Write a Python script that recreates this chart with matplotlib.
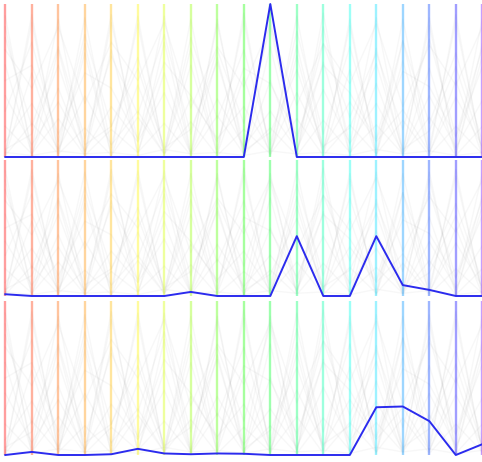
import colorsys

import matplotlib
matplotlib.use("Agg")
import matplotlib.pyplot as plt

# one column per axis, 19 axes (last one sits on the right edge)
axis_ids = list(range(19))
axis_hues_deg = [0, 12, 24, 34, 44, 58, 70, 85, 100, 115, 130, 145, 160, 175, 188, 205, 225, 242, 265]

# highlighted record, one per panel (fraction of panel height)
blue_top = [0, 0, 0, 0, 0, 0, 0, 0, 0, 0, 1.0, 0, 0, 0, 0, 0, 0, 0, 0]
blue_mid = [0.013, 0, 0, 0, 0, 0, 0, 0.03, 0, 0, 0, 0.44, 0, 0, 0.44, 0.08, 0.045, 0, 0]
blue_bot = [0, 0.02, 0, 0, 0.005, 0.04, 0.01, 0.005, 0.01, 0.008, 0, 0, 0, 0, 0.31, 0.315, 0.22, 0, 0.07]

# background records (shared by the three panels)
bg_1 = [0.85, 0.05, 0.90, 0.02, 0.88, 0.10, 0.92, 0.03, 0.87, 0.06, 0.90, 0.02, 0.85, 0.08, 0.91, 0.04, 0.86, 0.05, 0.90]
bg_2 = [0.02, 0.88, 0.04, 0.91, 0.06, 0.87, 0.02, 0.90, 0.05, 0.89, 0.03, 0.92, 0.04, 0.86, 0.02, 0.90, 0.06, 0.88, 0.03]
bg_3 = [0.60, 0.02, 0.45, 0.01, 0.70, 0.03, 0.55, 0.02, 0.65, 0.01, 0.50, 0.03, 0.62, 0.02, 0.48, 0.01, 0.58, 0.02, 0.66]
bg_4 = [0.01, 0.55, 0.02, 0.68, 0.01, 0.47, 0.03, 0.60, 0.02, 0.52, 0.01, 0.66, 0.02, 0.57, 0.01, 0.63, 0.02, 0.50, 0.01]
bg_5 = [0.30, 0.75, 0.10, 0.80, 0.20, 0.65, 0.05, 0.78, 0.25, 0.70, 0.08, 0.82, 0.15, 0.72, 0.12, 0.76, 0.22, 0.68, 0.10]
bg_6 = [0.78, 0.20, 0.72, 0.12, 0.66, 0.28, 0.80, 0.15, 0.70, 0.22, 0.84, 0.10, 0.74, 0.26, 0.68, 0.18, 0.77, 0.14, 0.71]
bg_7 = [0.10, 0.35, 0.05, 0.40, 0.08, 0.30, 0.02, 0.38, 0.12, 0.33, 0.04, 0.42, 0.06, 0.36, 0.10, 0.31, 0.03, 0.39, 0.07]
bg_8 = [0.40, 0.08, 0.36, 0.04, 0.33, 0.10, 0.42, 0.02, 0.38, 0.07, 0.30, 0.05, 0.44, 0.09, 0.35, 0.03, 0.40, 0.06, 0.37]
bg_9 = [0.92, 0.01, 0.70, 0.02, 0.93, 0.01, 0.75, 0.02, 0.90, 0.01, 0.72, 0.02, 0.94, 0.01, 0.71, 0.02, 0.91, 0.01, 0.74]
bg_10 = [0.02, 0.93, 0.01, 0.74, 0.02, 0.92, 0.01, 0.71, 0.02, 0.94, 0.01, 0.73, 0.02, 0.90, 0.01, 0.76, 0.02, 0.93, 0.01]
bg_11 = [0.20, 0.02, 0.25, 0.01, 0.18, 0.03, 0.22, 0.01, 0.27, 0.02, 0.19, 0.01, 0.24, 0.03, 0.21, 0.02, 0.26, 0.01, 0.20]
bg_12 = [0.01, 0.22, 0.02, 0.19, 0.01, 0.26, 0.02, 0.23, 0.01, 0.18, 0.02, 0.25, 0.01, 0.21, 0.02, 0.24, 0.01, 0.20, 0.02]
bg_13 = [0.50, 0.60, 0.15, 0.55, 0.45, 0.12, 0.62, 0.40, 0.10, 0.58, 0.48, 0.14, 0.60, 0.42, 0.11, 0.56, 0.46, 0.13, 0.59]
bg_14 = [0.05, 0.15, 0.60, 0.08, 0.20, 0.58, 0.06, 0.18, 0.62, 0.04, 0.16, 0.57, 0.07, 0.19, 0.61, 0.05, 0.17, 0.59, 0.06]
bg_15 = [0.70, 0.45, 0.85, 0.35, 0.75, 0.50, 0.88, 0.32, 0.72, 0.46, 0.86, 0.34, 0.74, 0.48, 0.87, 0.33, 0.73, 0.47, 0.85]
bg_16 = [0.03, 0.01, 0.04, 0.02, 0.03, 0.01, 0.05, 0.02, 0.03, 0.01, 0.04, 0.02, 0.03, 0.01, 0.05, 0.02, 0.04, 0.01, 0.03]
background = [bg_1, bg_2, bg_3, bg_4, bg_5, bg_6, bg_7, bg_8, bg_9, bg_10,
              bg_11, bg_12, bg_13, bg_14, bg_15, bg_16]

W, H = 482, 462
fig = plt.figure(figsize=(W / 100, H / 100), dpi=100)

# (top px, bottom px, highlighted series)
panels = [(4, 157, blue_top), (160, 296, blue_mid), (301, 455, blue_bot)]
x0_px, dx_px = 5.3, 26.5

for top, bot, blue in panels:
    ax = fig.add_axes([0, 1 - bot / H, 1, (bot - top) / H])
    ax.set_xlim(-x0_px / dx_px, -x0_px / dx_px + W / dx_px)
    ax.set_ylim(0, 1)
    ax.axis("off")
    for rec in background:
        ax.plot(axis_ids, rec, color="#9a9a9a", alpha=0.07, lw=1.0, zorder=1)
    for i, h in zip(axis_ids, axis_hues_deg):
        c = colorsys.hsv_to_rgb(h / 360, 1.0, 1.0)
        ax.plot([i, i], [0, 1], color=c, alpha=0.38, lw=1.7, zorder=2,
                solid_capstyle="butt")
    ax.plot(axis_ids, blue, color="#2b2bee", lw=1.4, zorder=3, clip_on=False)

fig.savefig("out.png", dpi=100)
